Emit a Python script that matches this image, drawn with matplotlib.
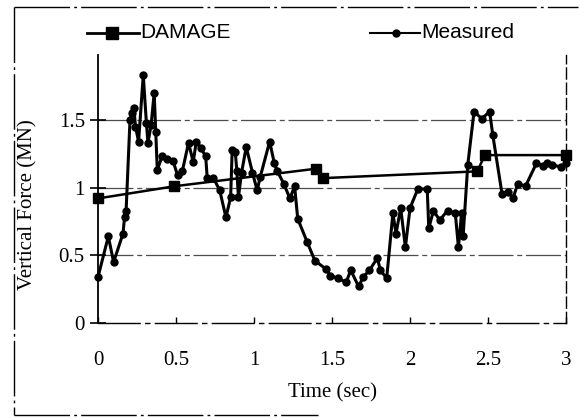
import numpy as np
import matplotlib.pyplot as plt
from matplotlib.lines import Line2D

# Measured vertical force (MN) against time (sec)
meas_t = [0.00, 0.066, 0.10, 0.16, 0.17, 0.18, 0.205, 0.215, 0.23, 0.24, 0.26, 0.29,
          0.31, 0.32, 0.34, 0.36, 0.37, 0.38, 0.41, 0.44, 0.48, 0.51, 0.54, 0.58,
          0.61, 0.63, 0.66, 0.69, 0.70, 0.74, 0.78, 0.82, 0.85, 0.86, 0.88, 0.89,
          0.90, 0.92, 0.95, 0.99, 1.02, 1.04, 1.10, 1.13, 1.15, 1.19, 1.23, 1.26,
          1.28, 1.34, 1.39, 1.46, 1.49, 1.54, 1.59, 1.62, 1.67, 1.70, 1.74, 1.79,
          1.81, 1.85, 1.89, 1.91, 1.94, 1.97, 2.00, 2.05, 2.11, 2.12, 2.15, 2.19,
          2.24, 2.29, 2.31, 2.33, 2.34, 2.37, 2.41, 2.46, 2.51, 2.53, 2.59, 2.63,
          2.66, 2.69, 2.74, 2.81, 2.85, 2.88, 2.91, 2.97, 3.00]
meas_f = [0.34, 0.64, 0.45, 0.66, 0.78, 0.83, 1.50, 1.55, 1.59, 1.45, 1.34, 1.83,
          1.48, 1.33, 1.46, 1.70, 1.41, 1.13, 1.23, 1.21, 1.20, 1.09, 1.12, 1.33,
          1.19, 1.34, 1.29, 1.23, 1.07, 1.07, 0.98, 0.78, 0.93, 1.28, 1.26, 1.12,
          0.93, 1.11, 1.30, 1.11, 0.98, 1.08, 1.34, 1.18, 1.12, 1.03, 0.92, 1.01,
          0.77, 0.60, 0.46, 0.40, 0.35, 0.33, 0.30, 0.39, 0.27, 0.34, 0.39, 0.48,
          0.39, 0.33, 0.81, 0.66, 0.85, 0.56, 0.85, 0.99, 0.99, 0.70, 0.83, 0.76,
          0.83, 0.81, 0.56, 0.81, 0.64, 1.17, 1.56, 1.51, 1.56, 1.39, 0.95, 0.97,
          0.92, 1.03, 1.01, 1.18, 1.16, 1.18, 1.17, 1.15, 1.18]

# DAMAGE model prediction
dmg_t = [0.00, 0.49, 1.40, 1.44, 2.43, 2.48, 3.00]
dmg_f = [0.92, 1.01, 1.14, 1.07, 1.12, 1.24, 1.24]

x_ticks = [0, 0.5, 1, 1.5, 2, 2.5, 3]
x_labels = ['0', '0.5', '1', '1.5', '2', '2.5', '3']
y_ticks = [0, 0.5, 1, 1.5]
y_labels = ['0', '0.5', '1', '1.5']

serif = 'Liberation Serif'
sans = 'Liberation Sans'

fig = plt.figure(figsize=(5.8, 4.19), dpi=100)
ax = fig.add_axes([0.169, 0.229, 0.807, 0.640])

grid_style = dict(color='0.3', lw=0.9, dashes=(28, 3, 4, 3), zorder=1)
for v in [0.5, 1.0, 1.5]:
    ax.axhline(v, **grid_style)

ax.plot(dmg_t, dmg_f, color='black', lw=1.8, marker='s', ms=7,
        mfc='black', mec='black', zorder=3, clip_on=False)
ax.plot(meas_t, meas_f, color='black', lw=2.2, marker='o', ms=5,
        mfc='black', mec='black', zorder=4, clip_on=False)

ax.set_xlim(0, 3)
ax.set_ylim(0, 1.98)
ax.set_xticks(x_ticks)
ax.set_xticklabels(x_labels, fontfamily=serif, fontsize=15)
ax.set_yticks(y_ticks)
ax.set_yticklabels(y_labels, fontfamily=serif, fontsize=15)
ax.tick_params(axis='y', direction='inout', length=11, width=1.2, pad=4)
ax.tick_params(axis='x', direction='in', length=4, width=1.0, pad=20)

ax.spines['top'].set_visible(False)
ax.spines['left'].set_linewidth(1.3)
ax.spines['bottom'].set_linewidth(1.0)
ax.spines['bottom'].set_linestyle((0, (30, 4, 3, 4)))
ax.spines['right'].set_linewidth(1.0)
ax.spines['right'].set_linestyle((0, (8, 3)))

ax.set_xlabel('Time (sec)', fontfamily=serif, fontsize=15, labelpad=10)
ax.set_ylabel('Vertical Force (MN)', fontfamily=serif, fontsize=15, labelpad=12)
ax.yaxis.set_label_coords(-0.13, 0.44)

# legend drawn above the axes
leg_y = 1 - 33 / 419
fig.add_artist(Line2D([87 / 580, 139 / 580], [leg_y, leg_y], color='black', lw=2.0))
fig.add_artist(Line2D([112 / 580], [leg_y], marker='s', ms=8, color='black'))
fig.text(140 / 580, leg_y, 'DAMAGE', fontfamily=sans, fontsize=15, va='center', ha='left')
fig.add_artist(Line2D([370 / 580, 420 / 580], [leg_y, leg_y], color='black', lw=1.5))
fig.add_artist(Line2D([396 / 580], [leg_y], marker='o', ms=5, color='black'))
fig.text(421 / 580, leg_y, 'Measured', fontfamily=sans, fontsize=15, va='center', ha='left')

# outer frame
frame = dict(color='black', lw=1.0, ls=(0, (40, 3, 2, 3)))
fig.add_artist(Line2D([14 / 580, 578 / 580], [1 - 7 / 419, 1 - 7 / 419], **frame))
fig.add_artist(Line2D([14 / 580, 14 / 580], [1 - 7 / 419, 1 - 415 / 419], **frame))
fig.add_artist(Line2D([14 / 580, 318 / 580], [1 - 415 / 419, 1 - 415 / 419], **frame))

fig.savefig('out.png', dpi=100)
